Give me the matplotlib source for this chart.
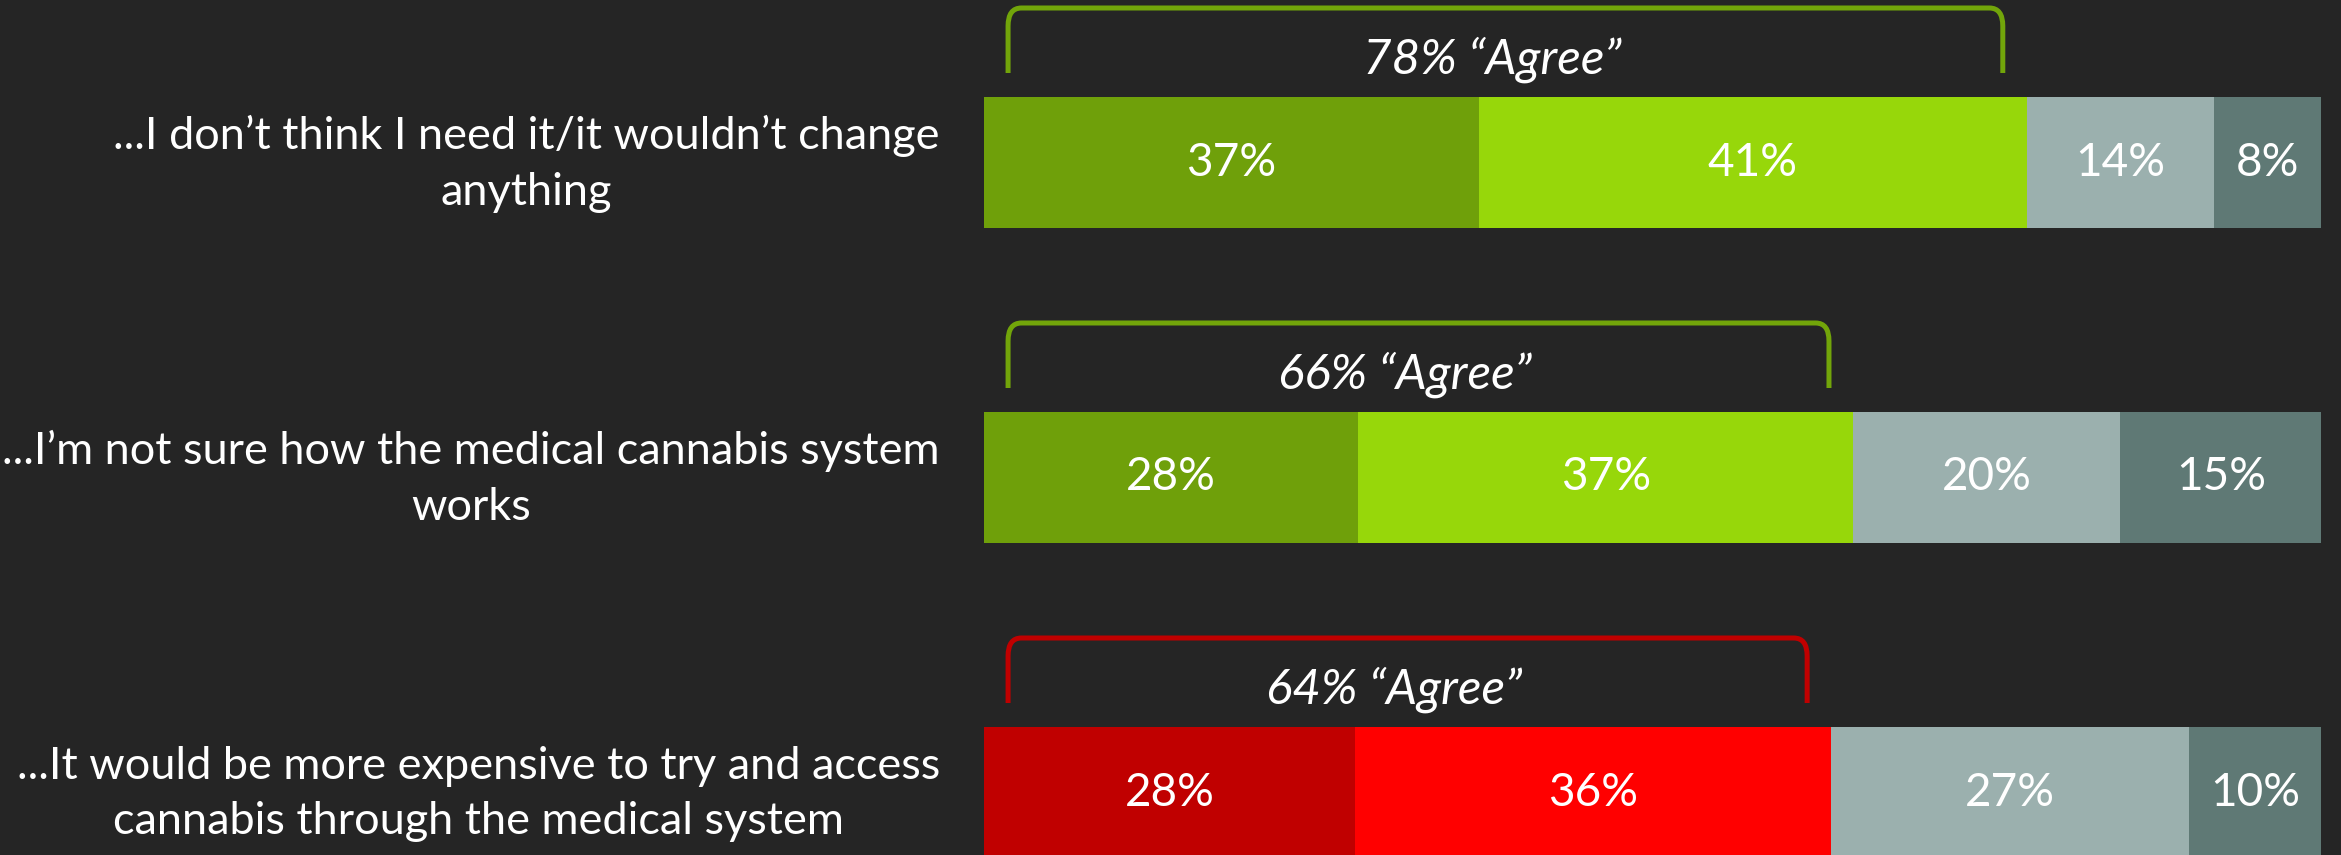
import matplotlib.pyplot as plt
from matplotlib.path import Path
from matplotlib.patches import PathPatch

# Survey statements (row labels, top to bottom)
statements = [
    "...I don\u2019t think I need it/it wouldn\u2019t change\nanything",
    "...I\u2019m not sure how the medical cannabis system\nworks",
    "...It would be more expensive to try and access\ncannabis through the medical system",
]
strongly_agree = [37, 28, 28]
agree = [41, 37, 36]
disagree = [14, 20, 27]
strongly_disagree = [8, 15, 10]
agree_total = [78, 66, 64]

green_row = ["#6FA00A", "#97D70A", "#9BB0AE", "#5F7975"]
red_row = ["#C00000", "#FF0000", "#9BB0AE", "#5F7975"]
row_colors = [green_row, green_row, red_row]
bracket_colors = ["#72A50A", "#72A50A", "#C00000"]

BG = "#252525"
FONT = "Lato"

fig = plt.figure(figsize=(23.41, 8.55), dpi=100, facecolor=BG)
ax = fig.add_axes([0, 0, 1, 1])
ax.set_facecolor(BG)

px_per_unit = 13.37
ax.set_xlim(-984 / px_per_unit, (2341 - 984) / px_per_unit)
ax.set_ylim((855 - 162.5) / 315, -162.5 / 315)
ax.axis("off")

bar_h = 131 / 315

for i in range(len(statements)):
    vals = [strongly_agree[i], agree[i], disagree[i], strongly_disagree[i]]
    total = sum(vals)
    left = 0.0
    for v, c in zip(vals, row_colors[i]):
        w = v / total * 100
        ax.barh(i, w, left=left, height=bar_h, color=c, edgecolor="none")
        ax.text(left + w / 2, i, f"{v}%", ha="center", va="center",
                color="white", fontsize=33, family=FONT)
        left += w

    # row label
    ax.text(-3.3, i + 0.005, statements[i], ha="right", va="center",
            multialignment="center", color="white", fontsize=32.5,
            family=FONT, linespacing=1.45)

    # bracket above the agree part
    top = i - bar_h / 2
    yt = top - 89 / 315
    yb = top - 24 / 315
    x0 = 1.8
    x1 = (vals[0] + vals[1]) / total * 100 - 1.8
    ry = 18 / 315
    rx = 1.0
    verts = [(x0, yb), (x0, yt + ry), (x0, yt), (x0 + rx, yt),
             (x1 - rx, yt), (x1, yt), (x1, yt + ry), (x1, yb)]
    codes = [Path.MOVETO, Path.LINETO, Path.CURVE3, Path.CURVE3,
             Path.LINETO, Path.CURVE3, Path.CURVE3, Path.LINETO]
    ax.add_patch(PathPatch(Path(verts, codes), fill=False,
                           edgecolor=bracket_colors[i], lw=3.6,
                           capstyle="butt", joinstyle="round"))
    ax.text((x0 + x1) / 2 - 1.0, top - 37 / 315,
            f"{agree_total[i]}% \u201cAgree\u201d", ha="center", va="center",
            color="white", fontsize=35.5, style="italic", family=FONT)

fig.savefig("out.png", dpi=100, facecolor=BG)
